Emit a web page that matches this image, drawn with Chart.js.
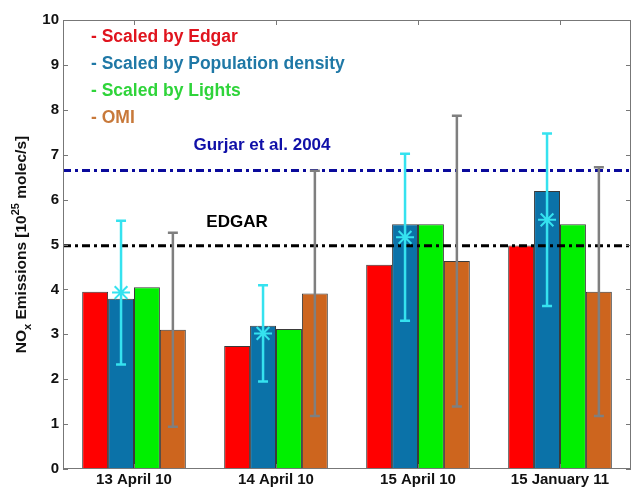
<!DOCTYPE html>
<html>
<head>
<meta charset="utf-8">
<script src="https://cdn.jsdelivr.net/npm/chart.js@4.4.1/dist/chart.umd.min.js"></script>
<style>
  html, body { margin: 0; padding: 0; background: #fff; }
  #wrap { width: 632px; height: 489px; position: relative; }
</style>
</head>
<body>
<div id="wrap"><canvas id="noxChart"></canvas></div>
<script>
"use strict";

// Categories and values
const dates = ['13 April 10', '14 April 10', '15 April 10', '15 January 11'];
const seriesNames = ['- Scaled by Edgar', '- Scaled by Population density', '- Scaled by Lights', '- OMI'];
const edgarScaled = [3.95, 2.74, 4.55, 4.98];
const popScaled = [3.79, 3.19, 5.45, 6.19];
const lightsScaled = [4.05, 3.12, 5.45, 5.45];
const omi = [3.10, 3.91, 4.63, 3.95];
// mean (star) and half range of the cyan error bars on the population bars
const popMean = [3.93, 3.02, 5.16, 5.55];
const popErr = [1.60, 1.07, 1.86, 1.92];
// half range of the grey error bars on the OMI bars
const omiErr = [2.16, 2.73, 3.24, 2.77];
// reference levels
const gurjarLevel = 6.65;
const edgarLevel = 4.97;
const yTicks = [0, 1, 2, 3, 4, 5, 6, 7, 8, 9, 10];

const barColors = ['#ff0000', '#0b72a8', '#00f000', '#cd651e'];
const legendColors = ['#e0141e', '#1f78a6', '#2fd43a', '#c8793a'];

// extra drawing: error bars, stars, reference lines, texts, axis box
const extras = {
    id: 'extras',
    afterDatasetsDraw(chart) {
        const ctx = chart.ctx;
        const area = chart.chartArea;
        const y = chart.scales.y;
        const x = chart.scales.x;

        // dash-dot reference lines
        function refLine(val, color) {
            const py = y.getPixelForValue(val);
            ctx.save();
            ctx.strokeStyle = color;
            ctx.lineWidth = 3;
            ctx.setLineDash([8, 4, 3, 4]);
            ctx.beginPath();
            ctx.moveTo(area.left, py);
            ctx.lineTo(area.right, py);
            ctx.stroke();
            ctx.restore();
        }
        refLine(gurjarLevel, '#0a0a9c');
        refLine(edgarLevel, '#000000');

        function errBar(px, center, half, color, width) {
            const top = y.getPixelForValue(center + half);
            const bot = y.getPixelForValue(center - half);
            ctx.save();
            ctx.strokeStyle = color;
            ctx.lineWidth = width;
            ctx.beginPath();
            ctx.moveTo(px, top); ctx.lineTo(px, bot);
            ctx.moveTo(px - 5, top); ctx.lineTo(px + 5, top);
            ctx.moveTo(px - 5, bot); ctx.lineTo(px + 5, bot);
            ctx.stroke();
            ctx.restore();
        }

        const popMeta = chart.getDatasetMeta(1);
        const omiMeta = chart.getDatasetMeta(3);
        dates.forEach((d, i) => {
            errBar(omiMeta.data[i].x, omi[i], omiErr[i], '#7f7f7f', 2.5);
            const px = popMeta.data[i].x;
            errBar(px, popMean[i], popErr[i], '#35e2ef', 2.5);
            // star marker
            const py = y.getPixelForValue(popMean[i]);
            ctx.save();
            ctx.strokeStyle = '#35e2ef';
            ctx.lineWidth = 2;
            ctx.beginPath();
            const r = 9;
            for (let k = 0; k < 4; k++) {
                const a = k * Math.PI / 4;
                ctx.moveTo(px - r * Math.cos(a), py - r * Math.sin(a));
                ctx.lineTo(px + r * Math.cos(a), py + r * Math.sin(a));
            }
            ctx.stroke();
            ctx.restore();
        });

        // axis box and inward ticks
        ctx.save();
        ctx.strokeStyle = '#777';
        ctx.lineWidth = 1;
        ctx.strokeRect(area.left + 0.5, area.top + 0.5, area.right - area.left - 1, area.bottom - area.top - 1);
        ctx.beginPath();
        yTicks.forEach(t => {
            const py = Math.round(y.getPixelForValue(t)) + 0.5;
            ctx.moveTo(area.left, py); ctx.lineTo(area.left + 5, py);
            ctx.moveTo(area.right, py); ctx.lineTo(area.right - 5, py);
        });
        dates.forEach((d, i) => {
            const px = Math.round(x.getPixelForValue(i)) + 0.5;
            ctx.moveTo(px, area.top); ctx.lineTo(px, area.top + 5);
            ctx.moveTo(px, area.bottom); ctx.lineTo(px, area.bottom - 5);
        });
        ctx.stroke();
        ctx.restore();

        // legend-like texts
        ctx.save();
        ctx.font = 'bold 17.5px "Liberation Sans", Arial, sans-serif';
        ctx.textBaseline = 'middle';
        ctx.textAlign = 'left';
        seriesNames.forEach((s, i) => {
            ctx.fillStyle = legendColors[i];
            ctx.fillText(s, 91, 37 + i * 27);
        });
        ctx.font = 'bold 17px "Liberation Sans", Arial, sans-serif';
        ctx.textAlign = 'center';
        ctx.fillStyle = '#1010a8';
        ctx.fillText('Gurjar et al. 2004', 262, 145);
        ctx.fillStyle = '#000';
        ctx.fillText('EDGAR', 237, 222);
        ctx.restore();

        // y axis title with sub/superscripts
        const parts = [
            { t: 'NO', s: 0 },
            { t: 'x', s: 1 },
            { t: ' Emissions [10', s: 0 },
            { t: '25', s: -1 },
            { t: ' molec/s]', s: 0 }
        ];
        const big = 'bold 15.5px "Liberation Sans", Arial, sans-serif';
        const small = 'bold 11px "Liberation Sans", Arial, sans-serif';
        ctx.save();
        let total = 0;
        parts.forEach(p => {
            ctx.font = p.s ? small : big;
            p.w = ctx.measureText(p.t).width;
            total += p.w;
        });
        ctx.translate(22, (area.top + area.bottom) / 2);
        ctx.rotate(-Math.PI / 2);
        ctx.fillStyle = '#111';
        ctx.textBaseline = 'middle';
        ctx.textAlign = 'left';
        let cx = -total / 2;
        parts.forEach(p => {
            ctx.font = p.s ? small : big;
            ctx.fillText(p.t, cx, p.s * 6);
            cx += p.w;
        });
        ctx.restore();
    }
};

window.onload = init;

function init() {
    const el = document.getElementById('noxChart');
    const values = [edgarScaled, popScaled, lightsScaled, omi];

    new Chart(el, {
        type: 'bar',
        data: {
            labels: dates,
            datasets: values.map((v, i) => ({
                label: seriesNames[i],
                data: v,
                backgroundColor: barColors[i],
                borderColor: '#3a3a3a',
                borderWidth: 1,
                categoryPercentage: 0.73,
                barPercentage: 1.0
            }))
        },
        options: {
            responsive: true,
            maintainAspectRatio: false,
            animation: false,
            layout: { padding: { top: 20, right: 1, left: 0, bottom: 0 } },
            plugins: {
                legend: { display: false },
                tooltip: { enabled: false }
            },
            scales: {
                x: {
                    grid: { display: false },
                    border: { display: false },
                    ticks: {
                        color: '#111',
                        padding: -6,
                        font: { family: '"Liberation Sans", Arial', size: 15, weight: 'bold' }
                    },
                    afterFit(scale) { scale.height = 20; }
                },
                y: {
                    min: 0,
                    max: 10,
                    grid: { display: false },
                    border: { display: false },
                    ticks: {
                        stepSize: 1,
                        color: '#111',
                        padding: -4,
                        font: { family: '"Liberation Sans", Arial', size: 15, weight: 'bold' }
                    },
                    afterFit(scale) { scale.width = 63; }
                }
            }
        },
        plugins: [extras]
    });
}
</script>
</body>
</html>
